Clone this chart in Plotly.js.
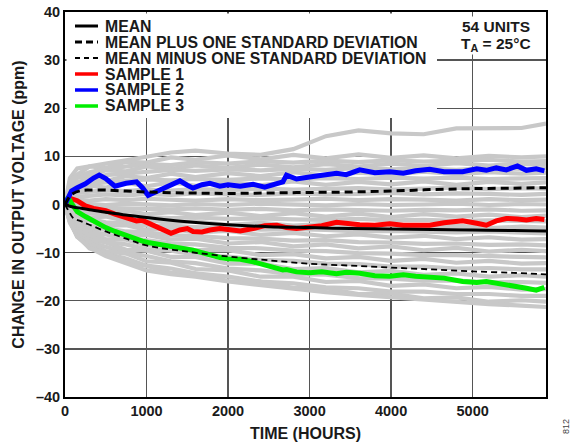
<!DOCTYPE html>
<html>
<head>
<meta charset="utf-8">
<script src="https://cdn.plot.ly/plotly-3.0.1.min.js"></script>
<style>html,body{margin:0;padding:0;background:#fff;}#chart{width:574px;height:447px;}</style>
</head>
<body>
<div id="chart"></div>
<script>
// ---------- DATA ----------
const xTickVals = [0, 1000, 2000, 3000, 4000, 5000];
const xTickText = ["0", "1000", "2000", "3000", "4000", "5000"];
const yTickVals = [-40, -30, -20, -10, 0, 10, 20, 30, 40];
const yTickText = ["–40", "–30", "–20", "–10", "0", "10", "20", "30", "40"];

const legendNames = ["MEAN", "MEAN PLUS ONE STANDARD DEVIATION", "MEAN MINUS ONE STANDARD DEVIATION", "SAMPLE 1", "SAMPLE 2", "SAMPLE 3"];

const meanHours = [0, 50, 100, 200, 300, 500, 750, 1000, 1500, 2000, 2500, 3000, 3500, 4000, 4500, 5000, 5500, 5900];
const meanPpm   = [0, -0.3, -0.5, -0.8, -1.1, -1.6, -2.2, -2.7, -3.6, -4.2, -4.6, -4.8, -5.0, -5.1, -5.2, -5.3, -5.4, -5.5];
const plusSdPpm = [0, 1.5, 2.3, 2.9, 3.0, 3.0, 2.8, 2.6, 2.4, 2.3, 2.4, 2.5, 2.6, 2.8, 3.1, 3.3, 3.4, 3.5];
const minusSdPpm= [0, -1.5, -2.8, -3.5, -4.2, -5.6, -7.1, -8.5, -9.8, -10.8, -11.6, -12.3, -12.7, -13.1, -13.5, -13.9, -14.2, -14.5];

const sampleHours = [0, 40, 80, 150, 250, 350, 420, 500, 613, 750, 878, 950, 1020, 1164, 1300, 1409, 1500, 1570, 1680, 1777, 1900, 2000, 2150, 2307, 2450, 2600, 2672, 2717, 2840, 3000, 3150, 3330, 3450, 3615, 3800, 3983, 4150, 4300, 4473, 4650, 4877, 5050, 5168, 5290, 5413, 5550, 5660, 5780, 5880];
const sample1Ppm = [0, 0.5, 1.2, 0.8, -0.3, -0.8, -1.0, -1.3, -2.0, -2.6, -3.4, -3.3, -3.8, -4.8, -6.0, -5.3, -5.0, -5.6, -5.7, -5.3, -5.0, -5.2, -5.5, -5.0, -4.4, -4.3, -4.6, -4.8, -5.0, -4.8, -4.4, -3.7, -4.0, -4.2, -4.3, -4.0, -4.3, -4.4, -4.3, -3.8, -3.4, -3.9, -4.3, -3.4, -2.9, -3.0, -3.2, -2.9, -3.1];
const sample2Ppm = [0, 1.5, 2.8, 3.5, 4.3, 5.5, 6.1, 5.4, 3.8, 4.4, 4.7, 3.5, 1.9, 3.0, 4.0, 4.9, 4.0, 3.4, 4.1, 4.4, 3.8, 4.1, 3.8, 4.2, 3.6, 4.3, 4.7, 6.1, 5.3, 5.7, 6.0, 6.5, 6.2, 7.2, 6.6, 6.8, 6.5, 7.0, 7.3, 6.8, 6.8, 7.4, 7.1, 7.6, 7.2, 8.0, 7.1, 7.4, 7.0];
const sample3Ppm = [0, 1.5, 0.2, -1.5, -2.5, -3.5, -4.3, -4.8, -5.6, -6.5, -7.2, -7.6, -7.9, -8.3, -8.6, -8.9, -9.2, -9.5, -10.0, -10.5, -11.0, -11.3, -11.4, -11.9, -12.5, -13.2, -13.6, -13.5, -14.0, -14.2, -14.0, -14.4, -14.1, -14.3, -14.8, -14.9, -14.6, -14.9, -15.0, -15.3, -16.0, -16.2, -16.0, -16.3, -16.6, -17.0, -17.4, -17.8, -17.2];

const grayHours = [0, 60, 150, 300, 500, 750, 1000, 1300, 1600, 2000, 2400, 2800, 3200, 3600, 4000, 4400, 4800, 5200, 5600, 5900];
const grayUnit01 = [0, 5.5, 7.5, 8.0, 8.5, 9.2, 9.9, 10.8, 11.2, 10.6, 10.3, 11.5, 14.2, 15.4, 14.8, 14.6, 15.8, 15.8, 15.9, 16.8];
const grayUnit02 = [0, 4.8, 6.2, 7.9, 7.6, 8.9, 8.7, 9.8, 9.3, 10.2, 9.4, 10.3, 9.6, 10.4, 9.7, 10.2, 9.6, 10.1, 9.8, 10.0];
const grayUnit03 = [0, 4.0, 5.8, 6.7, 7.4, 7.9, 8.4, 8.2, 8.8, 8.5, 9.0, 8.7, 9.1, 8.8, 9.2, 8.9, 9.0, 9.3, 8.9, 9.0];
const grayUnit04 = [0, 3.1, 5.5, 6.0, 7.1, 6.9, 7.9, 7.4, 8.1, 7.6, 8.3, 7.7, 8.4, 7.9, 8.5, 8.0, 8.6, 8.1, 8.5, 8.3];
const grayUnit05 = [0, 3.0, 4.6, 5.4, 6.1, 6.5, 6.9, 7.2, 7.0, 7.3, 7.1, 7.4, 7.2, 7.6, 7.3, 7.5, 7.2, 7.6, 7.4, 7.5];
const grayUnit06 = [0, 2.9, 3.7, 5.1, 4.9, 5.9, 5.5, 6.4, 5.7, 6.5, 5.9, 6.7, 6.0, 6.6, 6.2, 6.8, 6.3, 6.7, 6.4, 6.6];
const grayUnit07 = [0, 2.5, 3.8, 4.3, 4.6, 4.9, 5.2, 5.0, 5.3, 5.1, 5.4, 5.2, 5.5, 5.3, 5.6, 5.4, 5.6, 5.3, 5.5, 5.5];
const grayUnit08 = [0, 2.2, 2.7, 3.9, 3.5, 4.5, 3.8, 4.6, 3.9, 4.7, 4.0, 4.8, 4.1, 4.7, 4.2, 4.8, 4.1, 4.7, 4.3, 4.6];
const grayUnit09 = [0, 1.6, 2.4, 2.7, 3.0, 2.8, 3.1, 2.9, 3.2, 3.0, 3.3, 3.1, 3.2, 3.4, 3.1, 3.3, 3.5, 3.2, 3.4, 3.3];
const grayUnit10 = [0, 1.2, 1.6, 1.9, 2.1, 1.9, 2.2, 2.0, 2.3, 2.1, 2.0, 2.3, 2.1, 2.2, 2.4, 2.1, 2.3, 2.2, 2.0, 2.2];
const grayUnit11 = [0, 0.8, 1.0, 0.8, 1.1, 0.9, 1.2, 1.0, 0.8, 1.1, 0.9, 1.0, 1.2, 0.9, 1.1, 1.0, 0.8, 1.1, 0.9, 1.0];
const grayUnit12 = [0, 0.5, 0.3, 0.1, -0.1, 0.2, 0, -0.2, 0.1, -0.1, 0.2, 0, -0.2, 0.1, -0.1, 0, 0.2, -0.1, 0.1, 0];
const grayUnit13 = [0, 0.2, -0.3, -0.5, -0.7, -0.8, -0.9, -1.0, -0.8, -1.1, -0.9, -1.2, -1.0, -1.1, -1.3, -1.1, -1.2, -1.0, -1.3, -1.2];
const grayUnit14 = [0, -0.2, -1.1, -0.9, -1.7, -1.3, -2.0, -1.6, -2.2, -1.7, -2.4, -1.8, -2.5, -1.9, -2.6, -2.0, -2.5, -2.1, -2.6, -2.3];
const grayUnit15 = [0, -0.8, -1.3, -1.8, -2.1, -2.4, -2.6, -2.8, -2.7, -3.0, -2.9, -3.1, -3.2, -3.0, -3.3, -3.2, -3.4, -3.3, -3.5, -3.5];
const grayUnit16 = [0, -1.3, -1.5, -2.7, -2.5, -3.4, -3.1, -3.9, -3.5, -4.3, -3.8, -4.4, -4.0, -4.6, -4.2, -4.8, -4.4, -4.9, -4.6, -4.8];
const grayUnit17 = [0, -1.4, -2.3, -3.0, -3.7, -3.9, -4.4, -4.5, -4.8, -4.9, -5.2, -5.1, -5.3, -5.6, -5.5, -5.7, -5.8, -5.6, -5.9, -6.0];
const grayUnit18 = [0, -1.5, -3.1, -3.3, -4.4, -4.3, -5.3, -5.0, -5.8, -5.5, -6.3, -5.9, -6.6, -6.2, -6.9, -6.5, -7.2, -6.8, -7.3, -7.2];
const grayUnit19 = [0, -2.0, -3.3, -4.4, -4.9, -5.6, -5.8, -6.4, -6.5, -7.0, -7.1, -7.5, -7.4, -7.8, -7.9, -8.2, -8.1, -8.4, -8.3, -8.5];
const grayUnit20 = [0, -2.5, -3.5, -5.1, -5.2, -6.4, -6.3, -7.3, -7.1, -8.1, -7.8, -8.7, -8.3, -9.1, -8.7, -9.5, -9.0, -9.8, -9.4, -9.7];
const grayUnit21 = [0, -2.6, -4.3, -5.6, -6.2, -7.1, -7.4, -8.1, -8.3, -9.0, -9.1, -9.6, -9.7, -10.1, -10.2, -10.5, -10.5, -10.8, -10.9, -11.0];
const grayUnit22 = [0, -2.6, -5.0, -5.7, -7.2, -7.3, -8.5, -8.5, -9.5, -9.5, -10.5, -10.3, -11.2, -10.9, -11.7, -11.3, -12.1, -11.7, -12.3, -12.2];
const grayUnit23 = [0, -3.0, -5.3, -6.5, -7.8, -8.3, -9.3, -9.6, -10.4, -10.8, -11.5, -11.7, -12.3, -12.4, -12.9, -12.9, -13.3, -13.2, -13.5, -13.5];
const grayUnit24 = [0, -3.4, -5.2, -7.3, -7.9, -9.4, -9.6, -10.9, -10.9, -12.3, -12.3, -13.4, -13.2, -14.1, -13.8, -14.6, -14.3, -15.0, -14.7, -15.0];
const grayUnit25 = [0, -3.4, -5.7, -7.8, -8.8, -10.0, -10.7, -11.8, -12.2, -13.3, -13.7, -14.5, -14.6, -15.3, -15.4, -15.8, -15.8, -16.2, -16.1, -16.3];
const grayUnit26 = [0, -3.3, -6.5, -7.8, -9.7, -10.2, -11.8, -12.1, -13.4, -13.7, -15.0, -15.0, -16.1, -15.9, -16.9, -16.6, -17.4, -17.1, -17.7, -17.6];
const grayUnit27 = [0, -3.6, -6.7, -8.5, -10.2, -11.2, -12.7, -13.3, -14.3, -15.0, -16.0, -16.4, -17.2, -17.4, -18.1, -18.1, -18.6, -18.6, -19.0, -19.0];
const grayUnit28 = [0, -3.8, -6.3, -9.1, -10.0, -12.0, -12.7, -14.2, -14.3, -15.9, -16.0, -17.3, -17.4, -18.6, -18.5, -19.5, -19.3, -20.2, -19.9, -20.2];
const grayUnit29 = [0, -3.5, -6.7, -9.0, -10.7, -12.3, -13.7, -14.5, -15.0, -16.0, -16.8, -17.5, -18.2, -18.8, -19.3, -19.8, -20.3, -20.7, -21.0, -21.3];
const grayUnits = [grayUnit01, grayUnit02, grayUnit03, grayUnit04, grayUnit05, grayUnit06, grayUnit07, grayUnit08, grayUnit09, grayUnit10,
  grayUnit11, grayUnit12, grayUnit13, grayUnit14, grayUnit15, grayUnit16, grayUnit17, grayUnit18, grayUnit19, grayUnit20,
  grayUnit21, grayUnit22, grayUnit23, grayUnit24, grayUnit25, grayUnit26, grayUnit27, grayUnit28, grayUnit29];

// ---------- STYLE ----------
const FONT = "Liberation Sans, Arial, Helvetica, sans-serif";
const TXT = "#1a1a1a";
const legendStyles = [
  {color: "#000000", width: 3, dash: "solid"},
  {color: "#000000", width: 3, dash: "7px,4px"},
  {color: "#000000", width: 1.8, dash: "5px,4px"},
  {color: "#ff0000", width: 3.5, dash: "solid"},
  {color: "#0000ff", width: 3.5, dash: "solid"},
  {color: "#00ee00", width: 3.5, dash: "solid"}
];

const traces = [];
grayUnits.forEach(function (vals) {
  traces.push({x: grayHours, y: vals, type: "scatter", mode: "lines", showlegend: false, hoverinfo: "skip",
    line: {color: "#c8c8c8", width: 4.2}});
});
traces.push({x: sampleHours, y: sample1Ppm, type: "scatter", mode: "lines", name: legendNames[3], line: {color: "#ff0000", width: 5}});
traces.push({x: sampleHours, y: sample3Ppm, type: "scatter", mode: "lines", name: legendNames[5], line: {color: "#00ee00", width: 5}});
traces.push({x: sampleHours, y: sample2Ppm, type: "scatter", mode: "lines", name: legendNames[4], line: {color: "#0000ff", width: 5}});
traces.push({x: meanHours, y: plusSdPpm, type: "scatter", mode: "lines", name: legendNames[1], line: {color: "#000", width: 3, dash: "8px,5px", shape: "spline"}});
traces.push({x: meanHours, y: minusSdPpm, type: "scatter", mode: "lines", name: legendNames[2], line: {color: "#000", width: 1.8, dash: "6px,4px", shape: "spline"}});
traces.push({x: meanHours, y: meanPpm, type: "scatter", mode: "lines", name: legendNames[0], line: {color: "#000", width: 3, shape: "spline"}});

// custom legend (text + sample lines), placed in paper coordinates
const L = 65, R = 546, T = 12, B = 397;
const px = function (p) { return (p - L) / (R - L); };
const py = function (p) { return (B - p) / (B - T); };
const rowY = [26, 42, 58, 74, 90, 106];

const shapes = [{type: "rect", xref: "paper", yref: "paper", x0: px(66.5), x1: px(437), y0: py(118), y1: py(13.5),
  fillcolor: "#ffffff", line: {width: 0}, layer: "above"}];
const annotations = [];
legendNames.forEach(function (name, i) {
  const s = legendStyles[i];
  shapes.push({type: "line", xref: "paper", yref: "paper", x0: px(75), x1: px(98), y0: py(rowY[i]), y1: py(rowY[i]),
    line: {color: s.color, width: s.width, dash: s.dash}, layer: "above"});
  annotations.push({xref: "paper", yref: "paper", x: px(104), y: py(rowY[i]), xanchor: "left", yanchor: "middle",
    text: name, showarrow: false, borderpad: 0, font: {family: FONT, size: 15.8, color: TXT, weight: "bold"}});
});
annotations.push({xref: "paper", yref: "paper", x: px(496), y: py(26), xanchor: "center", yanchor: "middle",
  text: "54 UNITS", showarrow: false, bgcolor: "#ffffff", borderpad: 1, font: {family: FONT, size: 15.5, color: TXT, weight: "bold"}});
annotations.push({xref: "paper", yref: "paper", x: px(496), y: py(44), xanchor: "center", yanchor: "middle",
  text: "T<sub>A</sub> = 25°C", showarrow: false, bgcolor: "#ffffff", borderpad: 0, font: {family: FONT, size: 15.5, color: TXT, weight: "bold"}});
annotations.push({xref: "paper", yref: "paper", x: px(566), y: py(427), xanchor: "center", yanchor: "middle",
  text: "812", textangle: -90, showarrow: false, font: {family: FONT, size: 9, color: "#444"}});

const layout = {
  width: 574, height: 447,
  margin: {l: L, r: 574 - R, t: T, b: 447 - B},
  paper_bgcolor: "#ffffff", plot_bgcolor: "#ffffff",
  showlegend: false,
  xaxis: {
    range: [0, 5900], tickvals: xTickVals, ticktext: xTickText, ticks: "",
    showgrid: true, gridcolor: "#555555", gridwidth: 1.3, zeroline: false,
    showline: true, linecolor: "#000", linewidth: 2, mirror: true,
    tickfont: {family: FONT, size: 14.5, color: TXT, weight: "bold"},
    title: {text: "TIME (HOURS)", font: {family: FONT, size: 16, color: TXT, weight: "bold"}, standoff: 9}
  },
  yaxis: {
    range: [-40, 40], tickvals: yTickVals, ticktext: yTickText, ticks: "",
    showgrid: true, gridcolor: "#555555", gridwidth: 1.3, zeroline: false,
    showline: true, linecolor: "#000", linewidth: 2, mirror: true,
    tickfont: {family: FONT, size: 14.5, color: TXT, weight: "bold"},
    title: {text: "CHANGE IN OUTPUT VOLTAGE (ppm)", font: {family: FONT, size: 16, color: TXT, weight: "bold"}, standoff: 7}
  },
  shapes: shapes,
  annotations: annotations
};

Plotly.newPlot("chart", traces, layout, {displayModeBar: false, staticPlot: true});
</script>
</body>
</html>
